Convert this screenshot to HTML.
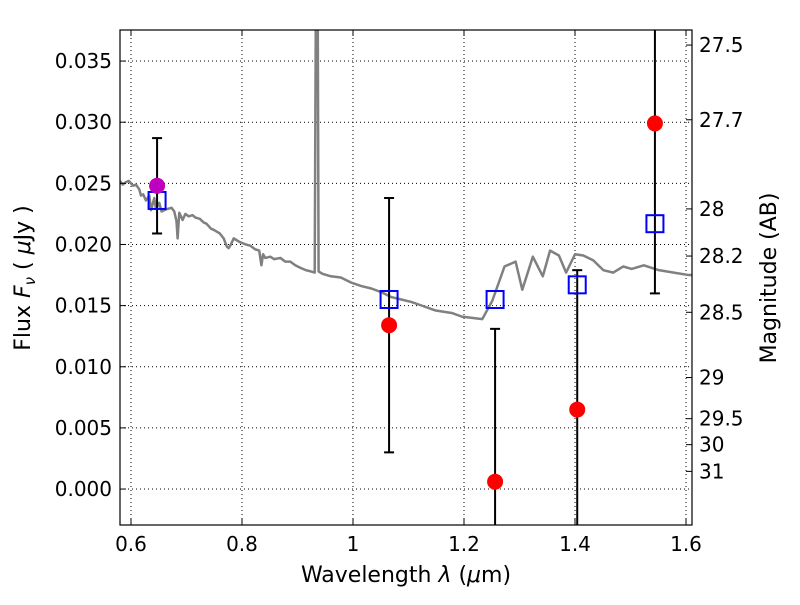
<!DOCTYPE html>
<html><head><meta charset="utf-8"><style>
body{margin:0;background:#fff;}
svg text{font-family:"DejaVu Sans","Liberation Sans",sans-serif;fill:#000;}
</style></head><body>
<svg id="chart" width="800" height="600" xmlns="http://www.w3.org/2000/svg"></svg>
<script>
const specWave=[0.580,0.585,0.591,0.596,0.604,0.609,0.615,0.618,0.622,0.627,0.633,0.636,0.642,0.645,0.651,0.655,0.660,0.665,0.673,0.678,0.682,0.684,0.687,0.693,0.698,0.704,0.711,0.716,0.724,0.731,0.736,0.744,0.749,0.760,0.767,0.773,0.776,0.780,0.785,0.796,0.807,0.815,0.824,0.831,0.835,0.838,0.842,0.851,0.858,0.869,0.878,0.887,0.896,0.905,0.915,0.924,0.931,0.935,0.938,0.945,0.960,0.978,0.996,1.015,1.033,1.051,1.069,1.087,1.105,1.124,1.149,1.178,1.196,1.233,1.251,1.273,1.293,1.305,1.324,1.342,1.355,1.371,1.384,1.400,1.415,1.433,1.451,1.469,1.487,1.502,1.524,1.551,1.578,1.605,1.62];
const specFlux=[0.0252,0.0249,0.0251,0.0252,0.0248,0.0249,0.0245,0.0240,0.0241,0.0236,0.0240,0.0228,0.0238,0.0229,0.0234,0.0227,0.0228,0.0229,0.0230,0.0227,0.0219,0.0205,0.0226,0.0220,0.0225,0.0223,0.0224,0.0222,0.0221,0.0218,0.0217,0.0213,0.0212,0.0209,0.0205,0.0198,0.0197,0.0200,0.0205,0.0202,0.0200,0.0199,0.0196,0.0195,0.0183,0.0192,0.0189,0.0190,0.0188,0.0189,0.0186,0.0186,0.0183,0.0181,0.0179,0.0178,0.0177,0.0600,0.0178,0.0176,0.0174,0.0173,0.0169,0.0166,0.0164,0.0161,0.0157,0.0155,0.0153,0.0150,0.0146,0.0144,0.0141,0.0139,0.0154,0.0182,0.0186,0.0163,0.0190,0.0174,0.0195,0.0191,0.0177,0.0192,0.0191,0.0187,0.0179,0.0177,0.0182,0.0180,0.0183,0.0179,0.0177,0.0175,0.0175];
const obsWave=[1.065,1.256,1.404,1.544];
const obsFlux=[0.0134,0.0006,0.0065,0.0299];
const obsErr=[0.0104,0.0125,0.0114,0.0139];
const refWave=[0.647];
const refFlux=[0.0248];
const refErr=[0.0039];
const modelWave=[0.647,1.065,1.256,1.404,1.544];
const modelFlux=[0.0236,0.0155,0.0155,0.0167,0.0217];
const xTicks=[0.6,0.8,1.0,1.2,1.4,1.6];
const xTickLabels=["0.6","0.8","1","1.2","1.4","1.6"];
const yTicks=[0,0.005,0.010,0.015,0.020,0.025,0.030,0.035];
const yTickLabels=["0.000","0.005","0.010","0.015","0.020","0.025","0.030","0.035"];
const magTicks=[27.5,27.7,28,28.2,28.5,29,29.5,30,31];

const L=120,R=692,T=30,B=525;
const xMin=0.5802,xMax=1.6108,yMin=-0.00294,yMax=0.03754;
const X=v=>L+(v-xMin)/(xMax-xMin)*(R-L);
const Y=v=>B-(v-yMin)/(yMax-yMin)*(B-T);
const svg=document.getElementById('chart');
const NS='http://www.w3.org/2000/svg';
function mk(tag,attrs,parent){const e=document.createElementNS(NS,tag);for(const k in attrs)e.setAttribute(k,attrs[k]);(parent||svg).appendChild(e);return e;}
const defs=mk('defs',{});const cp=mk('clipPath',{id:'clip'},defs);mk('rect',{x:L,y:T,width:R-L,height:B-T},cp);
const plot=mk('g',{'clip-path':'url(#clip)'});


// grid
xTicks.forEach((t,i)=>{const g=mk('line',{x1:X(t),x2:X(t),y1:T,y2:B,stroke:'#000','stroke-width':1,'stroke-dasharray':'1,3'},plot);

});
yTicks.forEach(t=>{const g=mk('line',{x1:L,x2:R,y1:Y(t),y2:Y(t),stroke:'#000','stroke-width':1,'stroke-dasharray':'1,3'},plot);

});
// spectrum
const sp=mk('polyline',{points:specWave.map((w,i)=>X(w)+','+Y(specFlux[i])).join(' '),fill:'none',stroke:'#808080','stroke-width':2.5,'stroke-linejoin':'round'},plot);


// error bars
function errbar(w,f,e,name){const x=X(w);
const l=mk('line',{x1:x,x2:x,y1:Y(f+e),y2:Y(f-e),stroke:'#000','stroke-width':2},plot);


[f+e,f-e].forEach(v=>{const c=mk('line',{x1:x-5,x2:x+5,y1:Y(v),y2:Y(v),stroke:'#000','stroke-width':2},plot);

});}
refWave.forEach((w,i)=>errbar(w,refFlux[i],refErr[i],'reference-error-bar'));
obsWave.forEach((w,i)=>errbar(w,obsFlux[i],obsErr[i],'observed-error-bar'));
modelWave.forEach((w,i)=>{const s=mk('rect',{x:X(w)-8.5,y:Y(modelFlux[i])-8.5,width:17,height:17,fill:'none',stroke:'#0000ff','stroke-width':2},plot);

});
obsWave.forEach((w,i)=>{const c=mk('circle',{cx:X(w),cy:Y(obsFlux[i]),r:8,fill:'#ff0000'},plot);

});
refWave.forEach((w,i)=>{const c=mk('circle',{cx:X(w),cy:Y(refFlux[i]),r:8,fill:'#bf00bf'},plot);

});
// frame
const fr=mk('rect',{x:L,y:T,width:R-L,height:B-T,fill:'none',stroke:'#000','stroke-width':1.2});


// x ticks
xTicks.forEach((t,i)=>{const x=X(t);
mk('line',{x1:x,x2:x,y1:B,y2:B-6,stroke:'#000'});mk('line',{x1:x,x2:x,y1:T,y2:T+6,stroke:'#000'});
const tx=mk('text',{x:x,y:B+26,'text-anchor':'middle','font-size':20});tx.textContent=xTickLabels[i];

});
yTicks.forEach((t,i)=>{const y=Y(t);
mk('line',{x1:L,x2:L+6,y1:y,y2:y,stroke:'#000'});
const tx=mk('text',{x:L-8,y:y+7,'text-anchor':'end','font-size':20});tx.textContent=yTickLabels[i];

});
magTicks.forEach(m=>{const y=Y(Math.pow(10,(23.9-m)/2.5));
mk('line',{x1:R,x2:R-6,y1:y,y2:y,stroke:'#000'});
const tx=mk('text',{x:R+7,y:y+7,'font-size':20});tx.textContent=String(m);

});
</script>
<svg width="800" height="600" style="position:absolute;left:0;top:0">
<text x="406" y="582" text-anchor="middle" font-size="22">Wavelength  <tspan font-style="italic">λ</tspan> (<tspan font-style="italic">μ</tspan>m)</text>
<text transform="translate(30,278) rotate(-90)" text-anchor="middle" font-size="22">Flux  <tspan font-style="italic">F<tspan font-size="15" dy="5">ν</tspan></tspan><tspan dy="-5">  ( </tspan><tspan font-style="italic">μ</tspan>Jy )</text>
<text transform="translate(776,278) rotate(-90)" text-anchor="middle" font-size="22">Magnitude (AB)</text>
</svg>
</body></html>
